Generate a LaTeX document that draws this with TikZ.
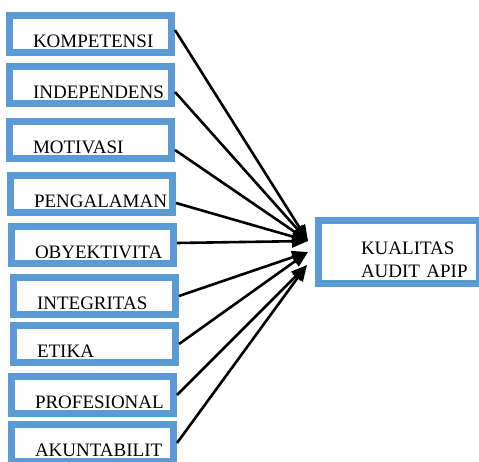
\documentclass[tikz,border=0pt]{standalone}
\usepackage{fontspec}
\setmainfont{Liberation Serif}
\usetikzlibrary{arrows.meta, positioning}
\definecolor{boxblue}{RGB}{91,155,213}

\tikzset{
    varbox/.style={draw=boxblue, line width=7pt, anchor=north west, inner xsep=23.5pt, inner ysep=0pt,
        text height=32pt, text depth=5pt, font=\fontsize{19}{24}\selectfont},
    infl/.style={line width=2.6pt, -{Triangle[length=16pt, width=12.5pt]}}
}

\begin{document}
\begin{tikzpicture}[x=1pt, y=1pt]
            \useasboundingbox (0,0) rectangle (479,461);
            \node[varbox] (komp) at (6,449) {\makebox[115pt][l]{KOMPETENSI}};
            \node[varbox] (indep) at (6,398) {\makebox[115pt][l]{INDEPENDENS}};
            \node[varbox] (motiv) at (6,343) {\makebox[115pt][l]{MOTIVASI}};
            \node[varbox] (peng) at (7,289) {\makebox[115pt][l]{PENGALAMAN}};
            \node[varbox] (obyek) at (8,238) {\makebox[115pt][l]{OBYEKTIVITA}};
            \node[varbox] (integ) at (10,187) {\makebox[115pt][l]{INTEGRITAS}};
            \node[varbox] (etika) at (10,139) {\makebox[115pt][l]{ETIKA}};
            \node[varbox] (prof) at (8,88) {\makebox[115pt][l]{PROFESIONAL}};
            \node[varbox] (akun) at (8,40) {\makebox[115pt][l]{AKUNTABILIT}};
            \node[varbox, inner xsep=42.5pt, text width=76pt, align=left,
                text height=33.5pt, text depth=29.5pt] (kual) at (315,244)
                {KUALITAS\\\mbox{AUDIT APIP}};
            % tips meet the target box in three bunches
            \coordinate[above left=11pt and 7pt of kual.west] (tipa);
            \coordinate[left=7pt of kual.west] (tipb);
            \coordinate[below left=13pt and 8pt of kual.west] (tipc);
            \draw[infl] ([yshift=4pt]komp.east) -- (tipa);
            \draw[infl] ([yshift=-7pt]indep.east) -- (tipa);
            \draw[infl] ([yshift=-10pt]motiv.east) -- (tipa);
            \draw[infl] ([yshift=-9pt]peng.east) -- (tipa);
            \draw[infl] ([yshift=2pt]obyek.east) -- (tipa);
            \draw[infl] (integ.east) -- (tipb);
            \draw[infl] (etika.east) -- (tipb);
            \draw[infl] (prof.east) -- (tipc);
            \draw[infl] (akun.east) -- (tipc);
        \end{tikzpicture}
\end{document}
